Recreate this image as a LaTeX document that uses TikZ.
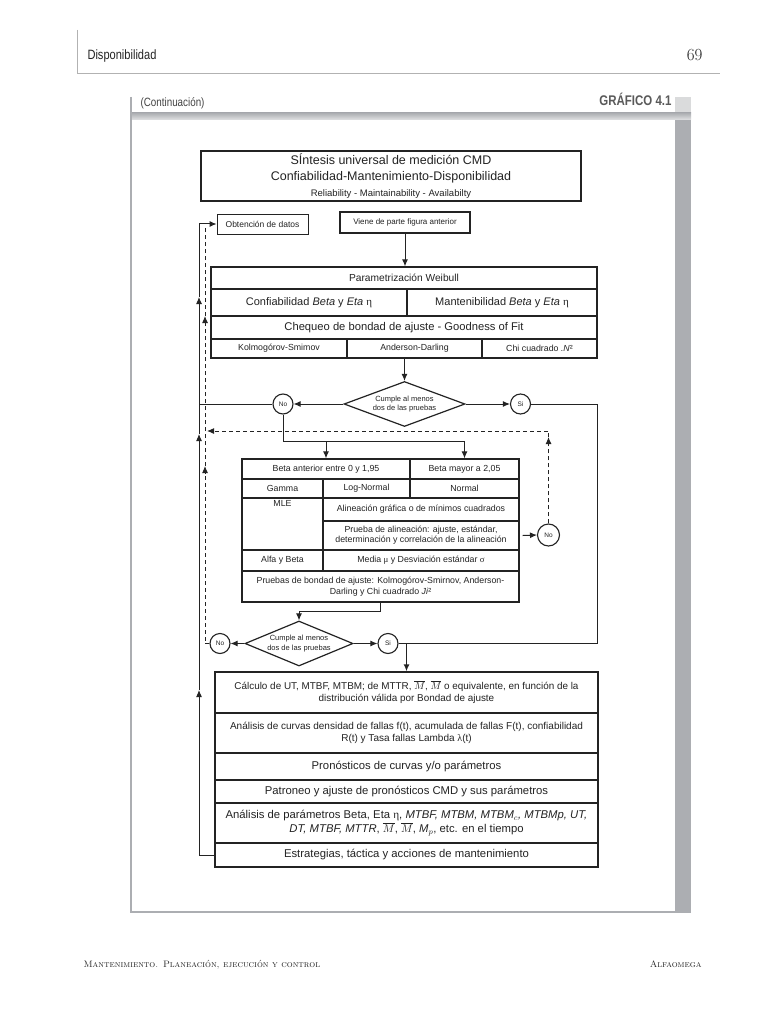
\documentclass[tikz,border=0pt]{standalone}
\usepackage{fontspec}
\newfontfamily\arial{Liberation Sans}
\newfontfamily\condsans[FakeStretch=0.82]{Liberation Sans}
\newfontfamily\greek{Liberation Serif}
\usetikzlibrary{shapes.geometric, arrows.meta, positioning, calc}
\definecolor{frame_gray}{RGB}{172, 174, 178}
\definecolor{ink}{RGB}{35, 35, 35}
\def \ETA {{\greek η}}

\begin{document}
\begin{tikzpicture}[
    x=1pt, y=-1pt,
    txt/.style 2 args={
        font=\arial\fontsize{#1}{#2}\selectfont
    },
    cell/.style 2 args={
        rectangle,
        draw=ink,
        line width=1.3pt,
        minimum width=#1pt,
        minimum height=#2pt,
        inner sep=0pt,
        text=ink,
        align=center
    },
    decision/.style={
        diamond,
        draw=ink,
        line width=1.2pt,
        aspect=2.7,
        minimum width=121pt,
        minimum height=45pt,
        inner sep=0pt,
        text=ink,
        align=center,
        txt={7.5}{9.5}
    },
    answer/.style={
        circle,
        draw=ink,
        line width=1.1pt,
        minimum size=20pt,
        inner sep=0pt,
        text=ink,
        txt={6.5}{7}
    },
    arrow/.style={
        -{Latex[length=7pt, width=6pt]},
        line width=1pt, draw=ink
    },
    loop/.style={
        line width=1pt, draw=ink
    },
    back/.style={
        dash pattern=on 4pt off 3pt,
        line width=1pt, draw=ink
    }
]

\useasboundingbox (0,0) rectangle (768,1024);
\fill[white] (0,0) rectangle (768,1024);

% Page head
\draw[gray!60, line width=0.6pt] (77,30) -- (77,73) -- (720,73);
\node[anchor=base west, text=ink, font=\condsans\fontsize{13.5}{15}\selectfont] (runhead) at (84,60) {Disponibilidad};
\node[anchor=base east, text=ink, font=\fontsize{17}{20}\selectfont] (folio) at (706,61) {69};

% Frame of the figure
\fill[frame_gray!45] (675,97) rectangle (691,113);
\fill[frame_gray] (675,113) rectangle (691,912);
\shade[top color=frame_gray, bottom color=frame_gray!35] (131,113) rectangle (691,120);
\draw[frame_gray, line width=1.2pt] (131,97) -- (131,912) -- (691,912);
\node[anchor=base west, text=ink!85, font=\condsans\fontsize{12}{13}\selectfont] (contd) at (137,107) {(Continuación)};
\node[anchor=base east, text=ink!75, font=\condsans\bfseries\fontsize{14}{15}\selectfont] (figno) at (675,106) {GRÁFICO 4.1};

% Title
\node[cell={380}{50}, txt={12.5}{16}] (title) at (391,176) {SÍntesis universal de medición CMD\\Confiabilidad-Mantenimiento-Disponibilidad\\{\fontsize{9.5}{11}\selectfont Reliability - Maintainability - Availabilty}};

% Inputs
\node[cell={91}{20}, line width=0.9pt, txt={8.5}{10}] (datos) at (262.5,224) {Obtención de datos};
\node[cell={130}{21}, line width=1.1pt, txt={8}{9.6}] (previa) at (405,222.5) {Viene de parte figura anterior};

% Weibull block
\node[cell={386}{22}, txt={10.2}{11}] (param) at (404,278) {Parametrización Weibull};
\node[cell={196}{27}, txt={11}{12}] (confiab) at (309,302.5) {Confiabilidad \textit{Beta} y \textit{Eta} \ETA};
\node[cell={190}{27}, txt={11}{12}] (manten) at (502,302.5) {Mantenibilidad \textit{Beta} y \textit{Eta} \ETA};
\node[cell={386}{23}, txt={11.2}{12}] (chequeo) at (404,327.5) {Chequeo de bondad de ajuste - Goodness of Fit};
\node[cell={136}{19}, txt={8.8}{9.6}] (ks) at (279,348.5) {Kolmogórov-Smimov};
\node[cell={135}{19}, txt={8.8}{9.6}] (ad) at (414.5,348.5) {Anderson-Darling};
\node[cell={115}{19}, txt={8.8}{9.6}] (chi) at (539.5,348.5) {Chi cuadrado \textit{.N}²};

\draw[arrow] (previa.south) -- (previa.south |- param.north);

% First check
\node[decision] (check1) at (404.5,404) {Cumple al menos\\dos de las pruebas};
\node[answer] (no1) at (283,404) {No};
\node[answer] (si1) at (520.5,404) {Si};

\draw[arrow] (check1.north |- ad.south) -- (check1.north);
\draw[arrow] (check1.west) -- (no1.east);
\draw[arrow] (check1.east) -- (si1.west);

% Other distributions
\node[cell={168}{20}, txt={8.8}{10}] (beta_low) at (326,469) {Beta anterior entre 0 y 1,95};
\node[cell={109}{20}, txt={8.8}{10}] (beta_high) at (464.5,469) {Beta mayor a 2,05};
\node[cell={81}{19}, txt={8.8}{10}] (gamma) at (282.5,488.5) {Gamma};
\node[cell={87}{19}, txt={8.8}{10}] (lognormal) at (366.5,488.5) {Log-Normal};
\node[cell={109}{19}, txt={8.8}{10}] (normal) at (464.5,488.5) {Normal};
\node[cell={81}{52}, label={[txt={8.8}{10}, text=ink, anchor=north, inner sep=3pt]north:MLE}] (mle) at (282.5,524) {};
\node[cell={196}{23}, txt={8.8}{10}] (grafica) at (421,509.5) {Alineación gráfica o de mínimos cuadrados};
\node[cell={196}{29}, txt={8.8}{10}] (prueba) at (421,535.5) {Prueba de alineación: ajuste, estándar,\\determinación y correlación de la alineación};
\node[cell={81}{21}, txt={8.8}{10}] (alfa) at (282.5,560.5) {Alfa y Beta};
\node[cell={196}{21}, txt={8.8}{10}] (media) at (421,560.5) {Media {\greek μ} y Desviación estándar {\greek σ}};
\node[cell={277}{31}, txt={8.8}{10.5}] (bondad) at (380.5,586.5) {Pruebas de bondad de ajuste: Kolmogórov-Smirnov, Anderson-\\Darling y Chi cuadrado \textit{Ji}²};

\coordinate (fork) at (283,441);
\draw[loop] (no1.south) -- (fork) -- (beta_high.north |- fork);
\draw[arrow] (beta_low.north |- fork) -- (beta_low.north);
\draw[arrow] (beta_high.north |- fork) -- (beta_high.north);

\node[answer, minimum size=22pt] (no3) at (548.5,535) {No};
\draw[arrow] ([xshift=3pt]prueba.east) -- (no3.west);

\coordinate (retry) at (548.5,431);
\coordinate (retry_end) at (207,431);
\draw[back, arrow] (no3.north) -- ([yshift=-6pt]retry);
\draw[back, arrow] ([yshift=-6pt]retry) -- (retry) -- (retry_end);

% Second check
\node[decision, minimum width=108pt, aspect=2.4] (check2) at (299,643.5) {Cumple al menos\\dos de las pruebas};
\node[answer] (no2) at (220,643.5) {No};
\node[answer] (si2) at (388,643.5) {Si};

\coordinate (merge) at (299,611);
\draw[arrow] (bondad.south) |- (merge) -- (check2.north);
\draw[arrow] (check2.west) -- (no2.east);
\draw[arrow] (check2.east) -- (si2.west);

% Results block
\node[cell={383}{41}, txt={9.9}{12}] (calc) at (406.5,692.5) {Cálculo de UT, MTBF, MTBM; de MTTR, $\overline{M}$, $\overline{M}$ o equivalente, en función de la\\distribución válida por Bondad de ajuste};
\node[cell={383}{40}, txt={10}{12}] (curvas) at (406.5,733) {Análisis de curvas densidad de fallas f(t), acumulada de fallas F(t), confiabilidad\\R(t) y Tasa fallas Lambda {\greek λ}(t)};
\node[cell={383}{27}, txt={11.3}{13}] (pronostico) at (406.5,766.5) {Pronósticos de curvas y/o parámetros};
\node[cell={383}{23}, txt={11.3}{12}] (patroneo) at (406.5,791.5) {Patroneo y ajuste de pronósticos CMD y sus parámetros};
\node[cell={383}{40}, txt={11.3}{14}] (parametros) at (406.5,823) {Análisis de parámetros Beta, Eta {\greek η}, \textit{MTBF, MTBM, MTBM}$_c$\textit{, MTBMp, UT,}\\\textit{DT, MTBF, MTTR}, $\overline{M}$, $\overline{M}$, \textit{M}$_p$, etc. en el tiempo};
\node[cell={383}{24}, txt={11.3}{12}] (estrategia) at (406.5,855) {Estrategias, táctica y acciones de mantenimiento};

\coordinate (right_top) at (597,404);
\coordinate (right_bot) at (597,643.5);
\draw[loop] (si1.east) -- (right_top) -- (right_bot);
\draw[loop, line width=1.6pt] (right_bot) -- (si2.east);
\draw[arrow, line width=1.6pt] (calc.north |- right_bot) -- (calc.north);

% Feedback loops
\coordinate (up1) at (199,690);
\coordinate (up2) at (199,434);
\coordinate (up3) at (199,297);
\draw[arrow] (estrategia.west) -| (up1);
\draw[arrow] (up1) -- (up2);
\draw[arrow] (up2) -- (up3);
\draw[arrow] (up3) |- (datos.west);
\draw[loop] (no1.west) -- (no1.west -| up1);

\coordinate (dash1) at (205,466);
\coordinate (dash2) at (205,316);
\coordinate (dash_top) at (205,226);
\draw[back, arrow] (no2.west) -| (dash1);
\draw[back, arrow] (dash1) -- (dash2);
\draw[back] (dash2) -- (dash_top);

% Page foot
\node[anchor=base west, text=ink, font=\fontsize{9.3}{11}\selectfont\scshape] (foot) at (80,967) {Mantenimiento. Planeación, ejecución y control};
\node[anchor=base east, text=ink, font=\fontsize{9.3}{11}\selectfont\scshape] (publisher) at (705,967) {Alfaomega};

\end{tikzpicture}
\end{document}
